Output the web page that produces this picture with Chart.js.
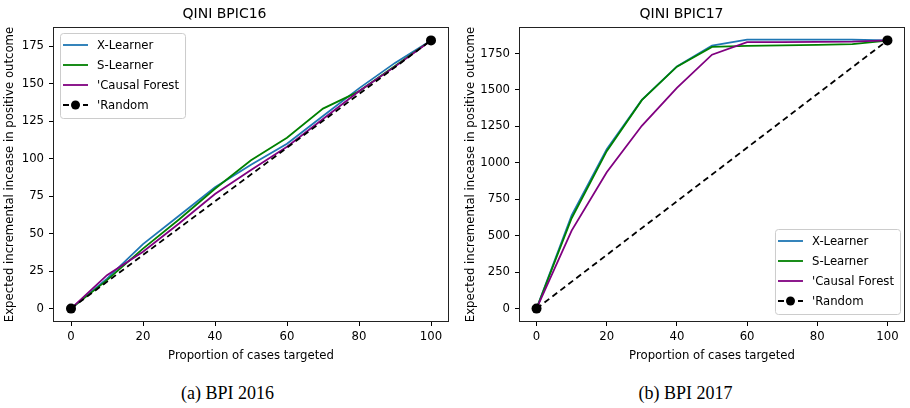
<!DOCTYPE html>
<html>
<head>
<meta charset="utf-8">
<script src="https://cdn.jsdelivr.net/npm/chart.js@4/dist/chart.umd.min.js"></script>
<style>
body{margin:0;width:910px;height:408px;background:#fff;position:relative;overflow:hidden}
.fig{position:absolute;top:0;width:455px;height:408px}
.fig canvas{position:absolute;left:0;top:0}
.cap{position:absolute;top:383px;left:0;width:455px;text-align:center;line-height:20px;
font-family:"Liberation Serif","Times New Roman",serif;font-size:18px;color:#000}
</style>
</head>
<body>

<div class="fig" style="left:0">
<canvas id="chart16" width="455" height="370"></canvas>
<div class="cap">(a) BPI 2016</div>
</div>

<div class="fig" style="left:455px">
<canvas id="chart17" width="455" height="370"></canvas>
<div class="cap" style="left:3px">(b) BPI 2017</div>
</div>

<script>

/* DATA */

const pct=[0,10,20,30,40,50,60,70,80,90,100];
const randPct=[0,100];

const labels=["X-Learner","S-Learner","'Causal Forest","'Random"];

// BPIC16
const xLearner16=[0,20,43,62,81,96,110,128.5,147,164,179];
const sLearner16=[0,19,40,59.5,80,99,114,133.5,145,162,179];
const forest16=[0,22.3,38,56.8,76.5,92.5,108,126.5,145,161.5,179];
const random16=[0,179];
const yTicks16=[0,25,50,75,100,125,150,175];

// BPIC17
const xLearner17=[0,640,1093,1432,1662,1805,1846,1846,1846,1845,1840];
const sLearner17=[0,620,1080,1430,1660,1795,1803,1806,1810,1815,1838];
const forest17=[0,535,935,1254,1515,1742,1828,1828,1830,1832,1840];
const random17=[0,1840];
const yTicks17=[0,250,500,750,1000,1250,1500,1750];

const xTicks=[0,20,40,60,80,100];

/* PLUGINS */

const FONT="'DejaVu Sans', sans-serif";

// full box round the axes, like matplotlib spines
const frame={
id:"frame",
afterDatasetsDraw(chart){
const {ctx,chartArea:a}=chart;
ctx.save();
ctx.strokeStyle="#222";
ctx.lineWidth=1;
ctx.strokeRect(Math.round(a.left)+0.5,Math.round(a.top)+0.5,Math.round(a.right-a.left)-1,Math.round(a.bottom-a.top)-1);
ctx.restore();
}
};

// legend box drawn inside the plot area
const boxLegend={
id:"boxLegend",
afterDraw(chart,args,opts){
const {ctx,chartArea:a}=chart;
const items=chart.data.datasets;
ctx.save();
ctx.font="11.7px "+FONT;
const tw=Math.max(...items.map(d=>ctx.measureText(d.label).width));
const rowH=20,padX=3,handle=25,gap=9;
const w=padX+handle+gap+tw+6;
const h=rowH*items.length+5;
const x=opts.where==="upper left" ? a.left+7 : a.right-5-w;
const y=opts.where==="upper left" ? a.top+6 : a.bottom-8-h;

ctx.fillStyle="rgba(255,255,255,0.8)";
ctx.strokeStyle="#ccc";
ctx.lineWidth=1;
ctx.beginPath();
ctx.roundRect(x+0.5,y+0.5,w,h,3);
ctx.fill();
ctx.stroke();

items.forEach((d,i)=>{
const cy=y+12+i*rowH;
ctx.strokeStyle=d.borderColor;
ctx.lineWidth=d.borderWidth;
ctx.setLineDash(d.borderDash||[]);
ctx.beginPath();
ctx.moveTo(x+padX,cy);
ctx.lineTo(x+padX+handle,cy);
ctx.stroke();
ctx.setLineDash([]);
if(d.pointRadius>0){
ctx.fillStyle=d.borderColor;
ctx.beginPath();
ctx.arc(x+padX+handle/2,cy,4.5,0,Math.PI*2);
ctx.fill();
}
ctx.fillStyle="#000";
ctx.textBaseline="middle";
ctx.fillText(d.label,x+padX+handle+gap,cy+0.5);
});
ctx.restore();
}
};

/* BUILD */

function pts(xs,ys){
return xs.map((p,i)=>({x:p,y:ys[i]}));
}

function makeChart(el,cfg){

const series=[
{label:labels[0],data:pts(pct,cfg.x),borderColor:"#1f77b4",order:4},
{label:labels[1],data:pts(pct,cfg.s),borderColor:"#008000",order:3},
{label:labels[2],data:pts(pct,cfg.f),borderColor:"#800080",order:2},
{label:labels[3],data:pts(randPct,cfg.r),borderColor:"#000",borderDash:[6,4],
pointRadius:5,pointBackgroundColor:"#000",pointBorderWidth:0,order:1}
].map(d=>Object.assign({borderWidth:1.8,pointRadius:0,tension:0,fill:false},d));

return new Chart(el,{
type:"line",
data:{datasets:series},
plugins:[frame,boxLegend],
options:{
responsive:false,
animation:false,
events:[],
layout:{padding:{left:0,right:cfg.padRight,top:0,bottom:0}},
plugins:{
legend:{display:false},
tooltip:{enabled:false},
title:{display:true,text:cfg.title,color:"#000",
font:{family:FONT,size:14,weight:"normal"},padding:{top:6,bottom:4.2}},
boxLegend:{where:cfg.legend}
},
scales:{
x:{
type:"linear",min:-5,max:105,
afterFit:s=>{s.height=48;},
afterBuildTicks:s=>{s.ticks=xTicks.map(v=>({value:v}));},
ticks:{color:"#000",padding:4,maxRotation:0,font:{family:FONT,size:11.7},callback:v=>String(v)},
grid:{drawOnChartArea:false,drawTicks:true,tickLength:4,color:"#000"},
border:{display:false},
title:{display:true,text:"Proportion of cases targeted",color:"#000",
font:{family:FONT,size:11.7},padding:{top:0,bottom:7}}
},
y:{
type:"linear",min:cfg.yMin,max:cfg.yMax,
afterFit:s=>{s.width=cfg.yWidth;},
afterBuildTicks:s=>{s.ticks=cfg.yTicks.map(v=>({value:v}));},
ticks:{color:"#000",padding:5,font:{family:FONT,size:11.7},callback:v=>String(v)},
grid:{drawOnChartArea:false,drawTicks:true,tickLength:4,color:"#000"},
border:{display:false},
title:{display:true,text:"Expected incremental incease in positive outcome",color:"#000",
font:{family:FONT,size:11.7},padding:{top:cfg.yTitlePad,bottom:0}}
}
}
}
});

}

makeChart(document.getElementById("chart16"),{
title:"QINI BPIC16",
x:xLearner16,s:sLearner16,f:forest16,r:random16,
yMin:-8.95,yMax:187.95,yTicks:yTicks16,
yWidth:53,yTitlePad:3,padRight:6,legend:"upper left"
});

makeChart(document.getElementById("chart17"),{
title:"QINI BPIC17",
x:xLearner17,s:sLearner17,f:forest17,r:random17,
yMin:-92,yMax:1932,yTicks:yTicks17,
yWidth:64,yTitlePad:9,padRight:2,legend:"lower right"
});

</script>
</body>
</html>
